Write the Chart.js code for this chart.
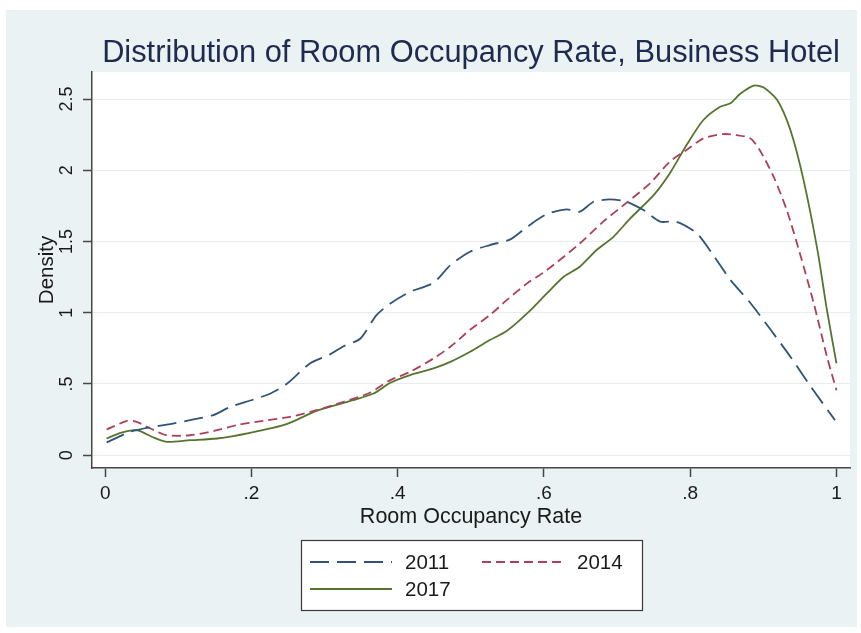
<!DOCTYPE html>
<html>
<head>
<meta charset="utf-8">
<script src="https://cdn.jsdelivr.net/npm/chart.js@4/dist/chart.umd.min.js"></script>
<style>
  html, body { margin: 0; padding: 0; background: #fff; }
  canvas { display: block; }
</style>
</head>
<body>
<canvas id="chart" width="861" height="633"></canvas>
<script>
// kernel density curves
const x2011 = [0.002, 0.034, 0.059, 0.089, 0.116, 0.148, 0.171, 0.203, 0.226, 0.248, 0.280, 0.308, 0.326, 0.349, 0.371, 0.390, 0.417, 0.449, 0.472, 0.499, 0.526, 0.554, 0.577, 0.604, 0.631, 0.649, 0.668, 0.690, 0.713, 0.736, 0.759, 0.781, 0.809, 0.832, 0.855, 0.882, 0.910, 0.937, 0.965, 0.998];
const y2011 = [0.089, 0.164, 0.194, 0.218, 0.246, 0.281, 0.339, 0.391, 0.433, 0.499, 0.644, 0.709, 0.765, 0.819, 0.983, 1.065, 1.147, 1.210, 1.334, 1.428, 1.475, 1.515, 1.603, 1.692, 1.725, 1.709, 1.779, 1.795, 1.779, 1.721, 1.639, 1.639, 1.557, 1.400, 1.230, 1.070, 0.880, 0.691, 0.480, 0.246];

const x2014 = [0.002, 0.030, 0.043, 0.062, 0.084, 0.116, 0.148, 0.180, 0.216, 0.253, 0.289, 0.326, 0.362, 0.390, 0.417, 0.449, 0.472, 0.499, 0.526, 0.549, 0.577, 0.604, 0.649, 0.681, 0.713, 0.745, 0.772, 0.795, 0.818, 0.845, 0.863, 0.882, 0.895, 0.914, 0.932, 0.950, 0.969, 0.987, 1.000];
const y2014 = [0.180, 0.241, 0.234, 0.187, 0.140, 0.140, 0.169, 0.211, 0.241, 0.269, 0.316, 0.375, 0.438, 0.527, 0.585, 0.679, 0.761, 0.880, 0.983, 1.088, 1.206, 1.299, 1.486, 1.639, 1.772, 1.908, 2.060, 2.142, 2.224, 2.254, 2.247, 2.224, 2.142, 1.955, 1.721, 1.416, 1.065, 0.691, 0.456];

const x2017 = [0.002, 0.021, 0.039, 0.048, 0.066, 0.084, 0.116, 0.153, 0.198, 0.248, 0.289, 0.339, 0.367, 0.390, 0.417, 0.449, 0.472, 0.499, 0.526, 0.549, 0.577, 0.604, 0.627, 0.649, 0.672, 0.695, 0.718, 0.750, 0.772, 0.795, 0.818, 0.841, 0.855, 0.868, 0.887, 0.900, 0.919, 0.937, 0.955, 0.974, 0.987, 1.000];
const y2017 = [0.117, 0.157, 0.176, 0.169, 0.124, 0.094, 0.105, 0.117, 0.157, 0.218, 0.311, 0.386, 0.433, 0.508, 0.562, 0.609, 0.655, 0.726, 0.808, 0.871, 0.995, 1.135, 1.252, 1.323, 1.440, 1.533, 1.662, 1.826, 1.978, 2.177, 2.353, 2.446, 2.470, 2.535, 2.594, 2.582, 2.493, 2.282, 1.931, 1.440, 1.018, 0.644];

const seriesNames = ['2011', '2014', '2017'];

const xTicks = [0, 0.2, 0.4, 0.6, 0.8, 1];
const xTickLabels = ['0', '.2', '.4', '.6', '.8', '1'];
const yTicks = [0, 0.5, 1, 1.5, 2, 2.5];
const yTickLabels = ['0', '.5', '1', '1.5', '2', '2.5'];

const FONT = '"Liberation Sans", Arial, sans-serif';
const TXT = '#1a1a1a';
const AXIS = '#474747';

const pts = (xs, ys) => xs.map((x, i) => ({ x: x, y: ys[i] }));

const bgPlugin = {
  id: 'bg',
  beforeDraw(chart) {
    const ctx = chart.ctx, a = chart.chartArea;
    ctx.save();
    ctx.fillStyle = '#ffffff';
    ctx.fillRect(0, 0, chart.width, chart.height);
    ctx.fillStyle = '#eaf2f3';
    ctx.fillRect(6, 10, 851, 617);
    ctx.fillStyle = '#ffffff';
    ctx.fillRect(a.left, a.top, a.right - a.left, a.bottom - a.top);
    ctx.restore();
  }
};

// Stata style legend: framed box under the axis title, two columns
const legendBox = {
  id: 'legendBox',
  afterDraw(chart) {
    const ctx = chart.ctx;
    const slots = [[310, 562], [482, 562], [310, 589]];
    ctx.save();
    ctx.fillStyle = '#ffffff';
    ctx.fillRect(301, 540, 341, 70);
    ctx.strokeStyle = '#3a3a3a';
    ctx.lineWidth = 1.2;
    ctx.strokeRect(301.5, 540.5, 341, 70);
    chart.data.datasets.forEach((ds, i) => {
      const [x, y] = slots[i];
      ctx.strokeStyle = ds.borderColor;
      ctx.lineWidth = ds.borderWidth;
      ctx.setLineDash(ds.borderDash || []);
      ctx.beginPath();
      ctx.moveTo(x, y);
      ctx.lineTo(x + 82, y);
      ctx.stroke();
      ctx.setLineDash([]);
      ctx.fillStyle = TXT;
      ctx.font = '20.5px ' + FONT;
      ctx.textBaseline = 'middle';
      ctx.fillText(ds.label, x + 95, y + 1);
    });
    ctx.restore();
  }
};

new Chart(document.getElementById('chart'), {
  type: 'line',
  data: {
    datasets: [
      { label: seriesNames[0], data: pts(x2011, y2011), borderColor: '#2f5479', borderWidth: 1.8, borderDash: [19, 8] },
      { label: seriesNames[1], data: pts(x2014, y2014), borderColor: '#ad4059', borderWidth: 1.8, borderDash: [9, 5] },
      { label: seriesNames[2], data: pts(x2017, y2017), borderColor: '#55752f', borderWidth: 1.8 }
    ]
  },
  options: {
    responsive: false,
    animation: false,
    devicePixelRatio: 1,
    elements: { point: { radius: 0 }, line: { tension: 0.25, fill: false } },
    layout: { padding: { left: 0, right: 11, top: 0, bottom: 103 } },
    plugins: {
      legend: { display: false },
      tooltip: { enabled: false },
      title: {
        display: true,
        fullSize: false,
        text: 'Distribution of Room Occupancy Rate, Business Hotel',
        color: '#1f2a4f',
        font: { family: FONT, size: 30.8, weight: 'normal', lineHeight: 1.2 },
        padding: { top: 35, bottom: 0 }
      }
    },
    scales: {
      x: {
        type: 'linear',
        min: -0.018,
        max: 1.0185,
        afterBuildTicks: s => { s.ticks = xTicks.map(v => ({ value: v })); },
        afterFit: s => { s.height = 62; },
        ticks: {
          autoSkip: false, maxRotation: 0, padding: 5, color: TXT,
          font: { family: FONT, size: 19 },
          callback: v => xTickLabels[xTicks.indexOf(v)]
        },
        grid: { drawOnChartArea: false, drawTicks: true, tickLength: 9, tickColor: AXIS, tickWidth: 1.5 },
        border: { color: AXIS, width: 1.5 },
        title: {
          display: true, text: 'Room Occupancy Rate', color: TXT,
          font: { family: FONT, size: 21.5, lineHeight: 1.2 },
          padding: { top: 0, bottom: 0 }
        }
      },
      y: {
        type: 'linear',
        min: -0.09,
        max: 2.69,
        afterBuildTicks: s => { s.ticks = yTicks.map(v => ({ value: v })); },
        afterFit: s => { s.width = 92; },
        ticks: {
          autoSkip: false, minRotation: 90, maxRotation: 90, crossAlign: 'center', padding: 3, color: TXT,
          font: { family: FONT, size: 18 },
          callback: v => yTickLabels[yTicks.indexOf(v)]
        },
        grid: { color: '#e7edef', lineWidth: 1, drawTicks: true, tickLength: 9, tickColor: AXIS, tickWidth: 1.5 },
        border: { color: AXIS, width: 1.5 },
        title: {
          display: true, text: 'Density', color: TXT,
          font: { family: FONT, size: 20.5, lineHeight: 1.2 },
          padding: { top: 35, bottom: 0 }
        }
      }
    }
  },
  plugins: [bgPlugin, legendBox]
});
</script>
</body>
</html>
